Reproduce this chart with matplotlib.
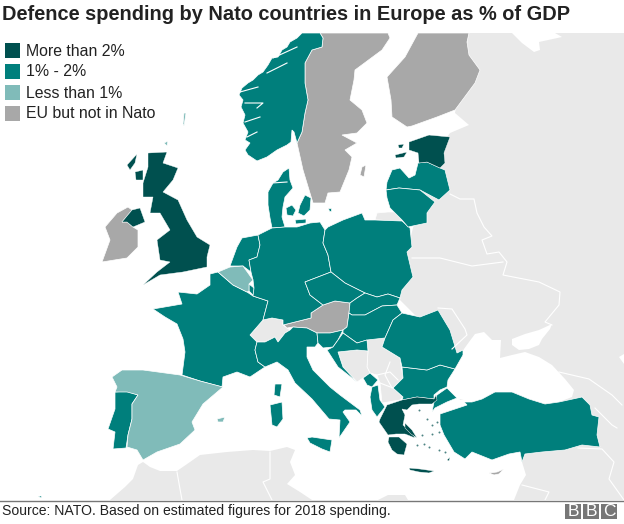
import matplotlib
matplotlib.use("Agg")
import matplotlib.pyplot as plt
from matplotlib.patches import Rectangle

# Legend
LEGEND_LABELS = ["More than 2%", "1% - 2%", "Less than 1%", "EU but not in Nato"]
DARK = "#00504f"
TEAL = "#007f7c"
LIGHT = "#80bbb9"
GREY = "#a8a8a8"
LAND = "#e9e9e9"
LEGEND_COLOURS = [DARK, TEAL, LIGHT, GREY]

TITLE = "Defence spending by Nato countries in Europe as % of GDP"
SOURCE = "Source: NATO. Based on estimated figures for 2018 spending."

# Outlines, in image pixels
east_land = [(469, 33), (624, 33), (624, 500), (514, 500), (520, 485), (526, 475), (522, 462), (530, 440),
             (500, 400), (460, 400), (440, 340), (400, 300), (405, 260), (420, 200), (447, 137), (450, 133),
             (469, 125), (455, 113)]
north_africa = [(110, 500), (125, 487), (133, 479), (138, 465), (143, 462), (150, 467), (160, 471), (177, 471),
                (190, 462), (200, 455), (227, 452), (253, 450), (270, 451), (287, 447), (295, 450), (290, 462),
                (295, 475), (287, 484), (300, 492), (312, 500)]
libya_bit = [(378, 500), (388, 495), (405, 495), (408, 500)]
kaliningrad = [(375, 220), (377, 213), (388, 212), (400, 212), (402, 221)]
switzerland = [(250, 335), (263, 320), (272, 318), (283, 320), (283, 325), (290, 330), (285, 333), (278, 342),
               (275, 337), (265, 342), (257, 342)]
west_balkans = [(367, 340), (377, 338), (385, 338), (382, 347), (400, 358), (403, 378), (393, 388), (403, 397),
                (400, 400), (382, 403), (380, 383), (377, 375), (370, 373), (367, 367), (368, 351)]
bosnia = [(338, 352), (357, 350), (368, 351), (367, 367), (370, 373), (363, 378), (357, 382), (343, 367)]

black_sea = [(447, 384), (454, 370), (459, 359), (464, 349), (469, 342), (475, 334), (484, 332), (492, 340),
             (501, 340), (500, 358), (512, 355), (525, 352), (539, 357), (552, 365), (565, 379), (574, 390),
             (572, 397), (559, 402), (545, 404), (529, 399), (512, 392), (495, 392), (482, 399), (472, 402),
             (459, 399), (449, 390)]
azov = [(512, 339), (525, 334), (539, 330), (552, 324), (550, 329), (542, 339), (539, 345), (529, 349),
        (519, 350), (512, 345)]
caspian = [(619, 357), (624, 354), (624, 364)]
white_sea = [(512, 33), (522, 43), (534, 52), (540, 50), (539, 42), (562, 37), (555, 33)]
marmara = [(438, 411), (450, 407), (467, 405), (452, 410), (441, 414)]

uk = [(148, 153), (167, 152), (163, 163), (178, 168), (173, 180), (163, 192), (178, 200), (187, 220), (197, 237),
      (210, 245), (207, 257), (207, 267), (183, 272), (160, 275), (143, 285), (157, 272), (170, 262), (160, 260),
      (157, 240), (170, 230), (160, 213), (150, 213), (153, 197), (143, 197), (143, 183), (148, 167)]
n_ireland = [(122, 222), (132, 210), (140, 208), (145, 222), (133, 227), (127, 222)]
ireland = [(117, 213), (128, 207), (132, 210), (122, 222), (127, 222), (133, 227), (138, 230), (138, 247), (127, 258),
           (102, 262), (110, 240), (105, 227)]
hebrides = [(127, 165), (137, 154), (135, 163), (130, 170)]
skye = [(135, 172), (143, 170), (143, 180), (136, 180)]
shetland = [(184, 113), (186, 113), (184, 126), (183, 124)]
orkney = [(164, 143), (168, 141), (167, 146)]

norway = [(302, 33), (297, 38), (290, 42), (287, 47), (282, 50), (278, 57), (272, 58), (268, 65), (263, 72), (258, 75),
          (253, 80), (248, 83), (242, 88), (239, 95), (243, 100), (241, 107), (245, 115), (243, 123), (248, 132),
          (245, 140), (250, 143), (245, 150), (248, 155), (257, 161), (267, 157), (277, 150), (287, 145), (291, 142),
          (292, 130), (294, 132), (297, 143), (302, 132), (305, 113), (308, 100), (305, 83), (305, 63), (312, 50),
          (322, 47), (323, 38), (320, 33)]
sweden = [(320, 33), (323, 38), (322, 47), (312, 50), (305, 63), (305, 83), (308, 100), (305, 113), (302, 132), (297, 143),
          (303, 170), (313, 203), (325, 203), (328, 193), (340, 192), (349, 170), (352, 157), (345, 150), (357, 143),
          (342, 135), (357, 133), (367, 123), (362, 110), (350, 100), (354, 80), (355, 70), (382, 50), (390, 38), (388, 33)]
gotland = [(362, 167), (366, 165), (364, 177), (360, 175)]
finland = [(418, 33), (469, 33), (467, 42), (469, 55), (480, 70), (475, 83), (455, 110), (437, 117), (412, 126),
           (407, 127), (392, 117), (391, 100), (387, 77), (405, 57)]

denmark = [(268, 192), (273, 183), (278, 180), (283, 172), (289, 168), (290, 180), (293, 188), (285, 197), (283, 207),
           (282, 217), (285, 227), (272, 228), (270, 218), (268, 205)]
funen = [(286, 208), (292, 205), (296, 210), (293, 216), (287, 215)]
zealand = [(300, 205), (305, 195), (311, 198), (310, 210), (304, 216), (298, 213)]
lolland = [(295, 220), (306, 219), (306, 223), (296, 224)]
bornholm = [(328, 208), (331, 208), (331, 211), (329, 211)]

france = [(218, 272), (233, 285), (247, 292), (253, 296), (268, 301), (263, 320), (250, 335), (257, 342), (255, 350),
          (258, 362), (265, 367), (250, 377), (237, 372), (223, 377), (222, 387), (200, 381), (182, 375), (185, 352),
          (183, 339), (177, 324), (165, 317), (153, 309), (182, 304), (178, 292), (197, 294), (210, 285), (210, 274)]
belgium = [(218, 272), (230, 267), (243, 266), (253, 280), (249, 284), (249, 291), (247, 292), (233, 285)]
luxembourg = [(249, 284), (254, 288), (254, 296), (249, 291)]
netherlands = [(230, 266), (237, 247), (242, 238), (258, 235), (260, 245), (257, 257), (249, 260), (251, 272), (243, 266)]
germany = [(258, 235), (262, 233), (272, 228), (285, 227), (297, 227), (310, 223), (320, 222), (325, 230), (323, 243),
           (328, 255), (331, 272), (305, 282), (310, 295), (323, 305), (311, 313), (311, 318), (283, 325), (283, 320),
           (272, 318), (263, 320), (268, 301), (253, 296), (254, 288), (253, 280), (251, 272), (249, 260), (257, 257),
           (260, 245)]
poland = [(325, 230), (328, 227), (343, 220), (362, 213), (365, 220), (375, 220), (402, 221), (410, 228), (412, 247),
          (407, 252), (412, 273), (413, 277), (402, 290), (400, 298), (388, 294), (377, 297), (365, 293), (345, 283),
          (331, 272), (328, 255), (323, 243)]
czechia = [(331, 272), (345, 283), (365, 293), (357, 298), (350, 303), (335, 301), (323, 305), (310, 295), (305, 282)]
slovakia = [(365, 293), (377, 297), (388, 294), (400, 298), (397, 305), (382, 306), (365, 315), (352, 315), (349, 313),
            (350, 303), (357, 298)]
hungary = [(349, 313), (352, 315), (365, 315), (382, 306), (397, 305), (402, 313), (393, 320), (385, 338), (367, 340),
           (357, 343), (343, 333), (343, 330), (347, 327)]
austria = [(282, 323), (283, 325), (311, 318), (311, 313), (323, 305), (335, 301), (350, 303), (349, 313), (347, 327),
           (343, 330), (330, 333), (317, 333), (307, 328), (293, 327), (287, 328)]
italy = [(265, 367), (258, 362), (255, 350), (257, 342), (265, 342), (275, 337), (278, 342), (285, 333), (290, 330),
         (293, 327), (307, 328), (317, 333), (318, 343), (315, 347), (307, 347), (307, 357), (313, 370), (330, 387),
         (340, 395), (360, 410), (362, 416), (356, 410), (345, 410), (343, 412), (350, 422), (339, 438), (340, 420),
         (329, 419), (312, 399), (295, 383), (288, 370), (277, 362)]
sicily = [(307, 438), (312, 437), (332, 440), (330, 452), (322, 449), (310, 443)]
corsica = [(275, 384), (282, 384), (280, 397), (274, 395)]
sardinia = [(270, 405), (282, 402), (283, 419), (277, 427), (272, 425)]
slovenia = [(317, 333), (330, 333), (343, 330), (338, 340), (333, 347), (323, 348), (318, 343)]
croatia = [(343, 333), (357, 343), (367, 340), (368, 351), (357, 350), (338, 352), (343, 367), (357, 382), (352, 378),
           (338, 367), (327, 350), (333, 347), (338, 340)]
montenegro = [(363, 378), (370, 373), (378, 380), (372, 387), (367, 385)]
albania = [(372, 387), (378, 385), (380, 400), (385, 407), (377, 417), (372, 410), (370, 397)]
greece = [(380, 419), (387, 405), (402, 400), (417, 397), (434, 399), (436, 395), (437, 400), (432, 404), (419, 404),
          (412, 405), (407, 410), (402, 409), (405, 415), (403, 425), (412, 433), (415, 438), (405, 434), (396, 434),
          (388, 435), (379, 422)]
peloponnese = [(389, 437), (399, 437), (407, 444), (404, 455), (397, 454), (392, 450), (388, 442)]
euboea = [(405, 423), (412, 430), (417, 438), (411, 434), (405, 428)]
crete = [(409, 468), (420, 469), (434, 471), (429, 473), (419, 472), (410, 470)]
rhodes = [(447, 460), (450, 457), (449, 461)]
bulgaria = [(402, 367), (427, 370), (440, 365), (455, 369), (448, 380), (447, 387), (440, 390), (434, 395), (434, 399),
            (417, 397), (402, 400), (403, 397), (393, 388), (403, 378)]
romania = [(385, 338), (393, 320), (402, 313), (420, 317), (438, 310), (450, 330), (457, 353), (463, 350), (463, 355),
           (455, 369), (440, 365), (427, 370), (402, 367), (400, 358), (382, 347)]
turkey_eu = [(437, 395), (447, 388), (457, 398), (447, 402), (435, 408), (432, 412), (434, 402)]
turkey = [(464, 402), (472, 402), (482, 399), (495, 392), (512, 392), (529, 399), (545, 404), (559, 402), (582, 397),
          (590, 405), (592, 415), (599, 417), (597, 435), (600, 447), (582, 445), (565, 450), (542, 452), (525, 454),
          (522, 462), (520, 452), (509, 454), (492, 460), (472, 452), (465, 459), (454, 452), (444, 435), (440, 425),
          (440, 414), (452, 410), (467, 405)]
cyprus = [(489, 473), (497, 472), (504, 469), (499, 474), (494, 475)]
estonia = [(409, 142), (429, 135), (450, 137), (444, 153), (445, 163), (440, 168), (427, 162), (419, 163), (418, 153),
           (409, 150)]
saaremaa = [(395, 155), (407, 152), (404, 157), (396, 158)]
hiiumaa = [(398, 145), (404, 144), (402, 148), (399, 148)]
latvia = [(427, 162), (440, 168), (445, 170), (450, 190), (439, 200), (420, 190), (399, 188), (386, 190), (387, 182),
          (392, 170), (400, 168), (409, 178), (415, 175), (418, 163)]
lithuania = [(386, 190), (399, 188), (420, 190), (435, 202), (427, 213), (427, 223), (408, 227), (402, 220), (390, 208),
             (387, 198)]
spain = [(112, 377), (122, 370), (143, 370), (180, 375), (200, 381), (223, 387), (203, 404), (192, 422), (195, 430),
         (180, 444), (157, 452), (143, 460), (137, 450), (127, 447), (128, 435), (132, 419), (132, 404), (138, 395),
         (127, 392), (115, 392), (117, 387)]
portugal = [(115, 392), (127, 391), (138, 395), (132, 404), (132, 419), (128, 435), (126, 448), (113, 449), (115, 432),
            (108, 429), (115, 409)]
mallorca = [(217, 419), (225, 417), (223, 422), (218, 422)]
madeira = [(38, 496), (42, 496), (41, 498)]

dark_group = [uk, n_ireland, hebrides, skye, estonia, saaremaa, hiiumaa, greece, peloponnese, euboea, crete, rhodes]
teal_group = [norway, denmark, funen, zealand, lolland, bornholm, france, netherlands, luxembourg, germany, poland, czechia,
              slovakia, hungary, italy, sicily, corsica, sardinia, slovenia, croatia, montenegro, albania,
              bulgaria, romania, turkey_eu, turkey, latvia, lithuania, portugal, madeira]
light_group = [belgium, spain, mallorca, shetland, orkney]
grey_group = [sweden, gotland, finland, ireland, austria, cyprus]
neutral_group = [switzerland, west_balkans, bosnia, kaliningrad]
white_group = [black_sea, azov, caspian, white_sea, marmara]

# Small Aegean islands
aegean_x = [419, 427, 432, 437, 439, 432, 424, 429, 439, 445, 417, 422]
aegean_y = [410, 419, 425, 422, 432, 434, 444, 447, 450, 452, 445, 435]

# Borders between the countries that are not coloured
neutral_borders = [
    [(450, 194), (460, 199), (474, 199), (477, 213), (484, 227), (492, 236), (482, 240), (487, 254), (499, 252), (507, 262),
     (503, 275), (539, 282), (560, 292), (559, 305), (545, 322), (552, 325)],
    [(412, 258), (440, 258), (472, 266), (503, 262)],
    [(438, 308), (452, 309), (465, 329), (467, 335), (452, 349)],
    [(559, 372), (589, 379), (612, 395), (622, 405)],
    [(595, 408), (612, 425), (617, 428)],
    [(578, 448), (602, 449), (614, 462), (609, 479), (624, 500)],
    [(522, 485), (549, 492), (545, 500)],
    [(177, 472), (180, 489), (182, 500)],
    [(270, 452), (270, 479), (263, 482), (272, 500)],
    [(390, 362), (385, 375), (392, 388)],
    [(377, 375), (390, 372), (398, 380)],
    [(380, 383), (393, 388)],
]
fjords = [[(240, 92), (258, 87)], [(245, 103), (263, 103), (257, 108)], [(245, 122), (260, 117)],
          [(247, 137), (257, 132)], [(273, 58), (297, 47)], [(267, 73), (287, 63)], [(272, 183), (287, 182)]]


def desenhar_grupo(ax, grupo, cor, clip, lw=0.5, borda="white"):
    for contorno in grupo:
        xs = [p[0] for p in contorno]
        ys = [p[1] for p in contorno]
        for patch in ax.fill(xs, ys, facecolor=cor, edgecolor=borda, linewidth=lw):
            patch.set_clip_path(clip)


def desenhar_linhas(ax, linhas, clip):
    for linha in linhas:
        ax.plot([p[0] for p in linha], [p[1] for p in linha], color="white", lw=0.8, clip_path=clip)


plt.rcParams["font.family"] = ["Liberation Sans", "DejaVu Sans"]
fig = plt.figure(figsize=(6.24, 5.24), dpi=100)
ax = fig.add_axes([0, 0, 1, 1])
ax.set_xlim(0, 624)
ax.set_ylim(524, 0)
ax.axis("off")

clip = Rectangle((0, 33), 624, 467, transform=ax.transData)

# Background land, then the seas cut out of it
desenhar_grupo(ax, [east_land, north_africa, libya_bit], LAND, clip, lw=0)
desenhar_grupo(ax, white_group, "white", clip, lw=0)
desenhar_linhas(ax, neutral_borders, clip)

desenhar_grupo(ax, neutral_group, LAND, clip)
desenhar_grupo(ax, grey_group, GREY, clip)
desenhar_grupo(ax, teal_group, TEAL, clip)
desenhar_grupo(ax, light_group, LIGHT, clip)
desenhar_grupo(ax, dark_group, DARK, clip, lw=0.3)
ax.scatter(aegean_x, aegean_y, s=2, color=DARK, linewidths=0, alpha=0.7)
desenhar_linhas(ax, fjords, clip)

# Title and legend
ax.text(2, 15, TITLE, fontsize=14.45, fontweight="bold", color="#222222", va="center", ha="left")
for i, (rotulo, cor) in enumerate(zip(LEGEND_LABELS, LEGEND_COLOURS)):
    y = 43 + i * 21
    ax.add_patch(Rectangle((5, y), 15, 15, facecolor=cor, edgecolor="none"))
    ax.text(26, y + 8, rotulo, fontsize=11.4, color="#222222", va="center", ha="left")

# Footer
ax.plot([0, 624], [500.5, 500.5], color="#777777", lw=1)
ax.text(2, 511, SOURCE, fontsize=10.05, color="#222222", va="center", ha="left")
for x0, letra in zip([565, 583, 601], "BBC"):
    ax.add_patch(Rectangle((x0, 504), 16, 15, facecolor="#777777", edgecolor="none"))
    ax.text(x0 + 8, 511.8, letra, fontsize=12.5, color="white", va="center", ha="center")

fig.savefig("out.png", dpi=100)
